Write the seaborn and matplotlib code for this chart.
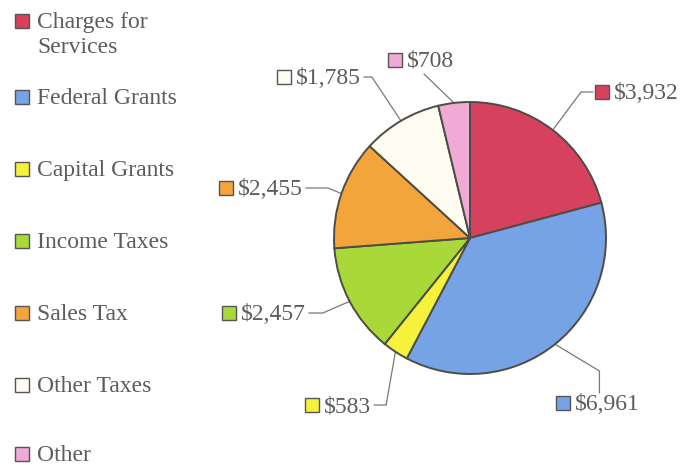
import numpy as np
import matplotlib
matplotlib.use("Agg")
import matplotlib.pyplot as plt
from matplotlib.patches import Rectangle
import seaborn as sns

# data
categories = ["Charges for\nServices", "Federal Grants", "Capital Grants", "Income Taxes",
              "Sales Tax", "Other Taxes", "Other"]
values = [3932, 6961, 583, 2457, 2455, 1785, 708]
value_labels = ["$3,932", "$6,961", "$583", "$2,457", "$2,455", "$1,785", "$708"]
colors = ["#d6415e", "#76a3e5", "#f6f23c", "#a9d938", "#f3a53c", "#fffcf2", "#efaad6"]

# layout (pixels): label marker left / center y, how the leader line attaches
label_px = [(595, 92), (556, 403), (305, 405), (222, 313), (219, 188), (277, 77), (388, 60)]
attach = ["left", "top", "right", "right", "right", "right", "bottom"]
elbow_px = [12, 22, 12, 14, 22, 8, 0]
legend_y = [21, 97, 169, 241, 313, 385, 454]

sns.set_theme(style="white")
plt.rcParams["font.family"] = ["Liberation Serif", "DejaVu Serif"]
txt_col = "#5c5c5c"
FS = 17

W, H = 690, 465
fig = plt.figure(figsize=(W / 100, H / 100), dpi=100)
fig.patch.set_facecolor("white")
ax = fig.add_axes([0, 0, 1, 1])
R = 136.0
cx, cy = 470, 238

wedges, _ = ax.pie(values, colors=colors, startangle=90, counterclock=False, radius=1,
                   wedgeprops=dict(edgecolor="#4d4d45", linewidth=1.4))
ax.set_aspect("auto")
ax.set_xlim(-cx / R, (W - cx) / R)
ax.set_ylim(-(H - cy) / R, cy / R)
ax.axis("off")


def to_u(px, py):
    return (px - cx) / R, (cy - py) / R


# legend on the left
for name, col, y in zip(categories, colors, legend_y):
    fig.patches.append(Rectangle((15 / W, 1 - (y + 7) / H), 14 / W, 14 / H,
                                 transform=fig.transFigure, facecolor=col,
                                 edgecolor="#555555", linewidth=1))
    for j, line in enumerate(name.split("\n")):
        fig.text(37 / W, 1 - (y + 7 + j * 25) / H, line, fontsize=FS, color=txt_col,
                 va="baseline", ha="left")

# data labels
s = 14 / R
texts = []
for i, lab in enumerate(value_labels):
    mx, my = to_u(*label_px[i])
    ax.add_patch(Rectangle((mx, my - s / 2), s, s, facecolor=colors[i],
                           edgecolor="#555555", linewidth=1))
    t = ax.text(mx + s + 5 / R, my - 7 / R, lab, fontsize=FS, color=txt_col,
                ha="left", va="baseline")
    texts.append(t)

fig.canvas.draw()
renderer = fig.canvas.get_renderer()
inv = ax.transData.inverted()

for i, w in enumerate(wedges):
    mid = np.deg2rad((w.theta1 + w.theta2) / 2)
    ex, ey = np.cos(mid), np.sin(mid)
    mx, my = to_u(*label_px[i])
    bb = texts[i].get_window_extent(renderer)
    (x0, y0), (x1, y1) = inv.transform([[bb.x0, bb.y0], [bb.x1, bb.y1]])
    e = elbow_px[i] / R
    if attach[i] == "left":
        ax_, ay_ = mx - 2 / R, my
        kx, ky = ax_ - e, ay_
    elif attach[i] == "right":
        ax_, ay_ = x1 + 3 / R, my
        kx, ky = ax_ + e, ay_
    elif attach[i] == "top":
        ax_, ay_ = (x0 + x1) / 2 - 8 / R, y1 + 1 / R
        kx, ky = ax_, ay_ + e
    else:
        ax_, ay_ = x0 + 17 / R, y0 - 2 / R
        kx, ky = ax_, ay_
    ax.plot([ax_, kx, ex], [ay_, ky, ey], color="#787878", linewidth=0.9, zorder=0)

fig.savefig("out.png", dpi=100, facecolor="white")
